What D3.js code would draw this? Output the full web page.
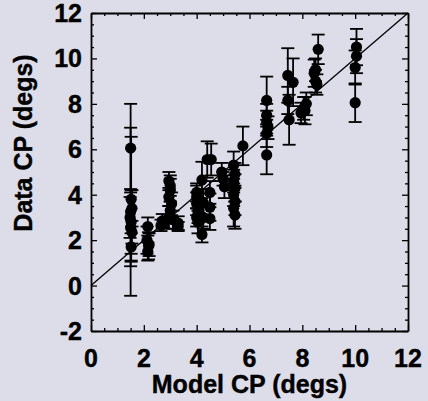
<!DOCTYPE html>
<html>
<head>
<meta charset="utf-8">
<script src="https://cdn.jsdelivr.net/npm/d3@7"></script>
<style>
  html, body { margin: 0; padding: 0; background: #dcdde9; }
  svg { display: block; }
  text { font-family: "Liberation Sans", Arial, Helvetica, sans-serif; font-weight: bold; fill: #000; }
</style>
</head>
<body>
<svg id="chart" width="428" height="401"></svg>
<script>
// Model-predicted vs measured CP, with per-measurement error bars
const modelCP = [
  1.50, 1.52, 1.50, 1.55, 1.48, 1.52, 1.50, 1.55, 1.52,
  2.15, 2.12, 2.18, 2.15, 2.20,
  2.65, 2.75, 2.70,
  2.95, 3.00, 3.00, 2.95, 3.05, 3.00, 2.95, 3.10, 3.30, 3.30,
  4.00, 4.00, 4.00, 4.05, 4.00, 4.05, 4.20, 4.25, 4.25, 4.20, 4.40, 4.55, 4.50, 4.50, 4.50,
  4.95, 5.05, 5.00, 5.40, 5.45, 5.40, 5.45, 5.40, 5.45, 5.40, 5.45, 5.75,
  6.65, 6.65, 6.65, 6.70, 6.65, 6.65,
  7.45, 7.45, 7.50, 7.65,
  7.95, 8.05, 8.15, 8.10,
  8.60, 8.50, 8.45, 8.50, 8.55,
  10.05, 10.05, 10.00, 10.00
];
const dataCP = [
  6.05, 3.80, 3.25, 3.40, 3.00, 2.80, 2.55, 2.35, 1.70,
  2.60, 2.00, 1.75, 1.50, 1.80,
  2.65, 2.75, 2.85,
  4.60, 4.40, 4.20, 3.90, 3.60, 3.30, 3.00, 2.90, 2.75, 2.60,
  4.10, 3.90, 3.60, 3.25, 3.00, 2.80, 4.65, 3.65, 3.00, 2.25, 5.55, 5.55, 4.10, 3.45, 2.95,
  5.00, 4.35, 4.70, 5.30, 4.90, 4.60, 4.30, 4.00, 3.70, 3.40, 3.10, 6.15,
  8.15, 7.50, 7.20, 6.95, 6.70, 5.75,
  9.25, 8.15, 7.30, 8.95,
  7.60, 7.80, 8.00, 7.70,
  10.40, 9.50, 9.35, 9.00, 8.85,
  10.50, 10.10, 9.60, 8.05
];
const dataErr = [
  1.95, 2.75, 3.70, 0.80, 0.90, 1.40, 1.70, 0.50, 0.60,
  0.40, 0.60, 0.60, 0.40, 0.50,
  0.25, 0.20, 0.30,
  0.40, 0.45, 0.50, 0.40, 0.50, 0.40, 0.50, 0.40, 0.30, 0.20,
  0.40, 0.50, 0.50, 0.50, 0.40, 0.50, 0.80, 0.60, 0.50, 0.35, 0.80, 0.70, 0.50, 0.60, 0.50,
  0.40, 0.50, 0.30, 0.60, 0.50, 0.50, 0.60, 0.50, 0.60, 0.80, 0.60, 0.85,
  1.05, 0.50, 0.50, 0.50, 0.60, 0.85,
  1.20, 0.60, 1.10, 1.05,
  0.45, 0.50, 0.50, 0.60,
  0.65, 0.50, 0.60, 0.50, 0.45,
  0.80, 0.75, 0.75, 0.85
];
const xTicks = [0, 2, 4, 6, 8, 10, 12];
const yTicks = [-2, 0, 2, 4, 6, 8, 10, 12];
const xLabel = "Model CP (degs)";
const yLabel = "Data CP (degs)";

const svg = d3.select("#chart");
const plotLeft = 91, plotRight = 408, plotTop = 13, plotBottom = 331;

const x = d3.scaleLinear().domain([0, 12]).range([plotLeft, plotRight]);
const y = d3.scaleLinear().domain([-2, 12]).range([plotBottom, plotTop]);

const points = modelCP.map((m, i) => ({ m, d: dataCP[i], e: dataErr[i] }));

// identity line y = x
svg.append("line")
  .attr("x1", x(0)).attr("y1", y(0))
  .attr("x2", x(12)).attr("y2", y(12))
  .attr("stroke", "#000").attr("stroke-width", 1.3);

// error bars
const capHalf = 6.5;
const eb = svg.append("g").attr("stroke", "#000").attr("stroke-width", 1.8);
eb.selectAll("line.v").data(points).join("line").attr("class", "v")
  .attr("x1", p => x(p.m)).attr("x2", p => x(p.m))
  .attr("y1", p => y(p.d - p.e)).attr("y2", p => y(p.d + p.e));
eb.selectAll("line.ct").data(points).join("line").attr("class", "ct")
  .attr("x1", p => x(p.m) - capHalf).attr("x2", p => x(p.m) + capHalf)
  .attr("y1", p => y(p.d + p.e)).attr("y2", p => y(p.d + p.e));
eb.selectAll("line.cb").data(points).join("line").attr("class", "cb")
  .attr("x1", p => x(p.m) - capHalf).attr("x2", p => x(p.m) + capHalf)
  .attr("y1", p => y(p.d - p.e)).attr("y2", p => y(p.d - p.e));

// markers
svg.append("g").selectAll("circle").data(points).join("circle")
  .attr("cx", p => x(p.m)).attr("cy", p => y(p.d)).attr("r", 5.6)
  .attr("fill", "#000");

// frame with inward ticks on all four sides
const xMinor = d3.range(0, 12.01, 0.5);
const yMinor = d3.range(-2, 12.01, 0.5);
const isMajor = v => Math.abs(v / 2 - Math.round(v / 2)) < 1e-6;
const tickLen = v => isMajor(v) ? 6 : 3;

function axisSide(axisFn, scale, ticks, transform, horizontal, sign) {
  const g = svg.append("g").attr("transform", transform)
    .call(axisFn(scale).tickValues(ticks).tickFormat("").tickSizeOuter(0));
  g.select(".domain").attr("stroke-width", 1.8);
  g.selectAll(".tick line").attr("stroke-width", 1.3)
    .attr(horizontal ? "y2" : "x2", d => sign * tickLen(d));
  return g;
}
axisSide(d3.axisBottom, x, xMinor, `translate(0,${plotBottom})`, true, -1);
axisSide(d3.axisTop, x, xMinor, `translate(0,${plotTop})`, true, 1);
axisSide(d3.axisLeft, y, yMinor, `translate(${plotLeft},0)`, false, 1);
axisSide(d3.axisRight, y, yMinor, `translate(${plotRight},0)`, false, -1);

// tick labels
svg.append("g").selectAll("text").data(xTicks).join("text")
  .attr("x", d => x(d)).attr("y", 367)
  .attr("text-anchor", "middle").attr("font-size", 25)
  .attr("stroke", "#000").attr("stroke-width", 0.4)
  .text(d => d);
svg.append("g").selectAll("text").data(yTicks).join("text")
  .attr("x", 82).attr("y", d => y(d) + 9)
  .attr("text-anchor", "end").attr("font-size", 25)
  .attr("stroke", "#000").attr("stroke-width", 0.4)
  .text(d => d);

// axis titles
svg.append("text")
  .attr("x", (plotLeft + plotRight) / 2).attr("y", 392.5)
  .attr("text-anchor", "middle").attr("font-size", 25)
  .attr("stroke", "#000").attr("stroke-width", 0.4)
  .text(xLabel);
svg.append("text")
  .attr("transform", "translate(32,143) rotate(-90)")
  .attr("text-anchor", "middle").attr("font-size", 25)
  .attr("stroke", "#000").attr("stroke-width", 0.4)
  .text(yLabel);
</script>
</body>
</html>
